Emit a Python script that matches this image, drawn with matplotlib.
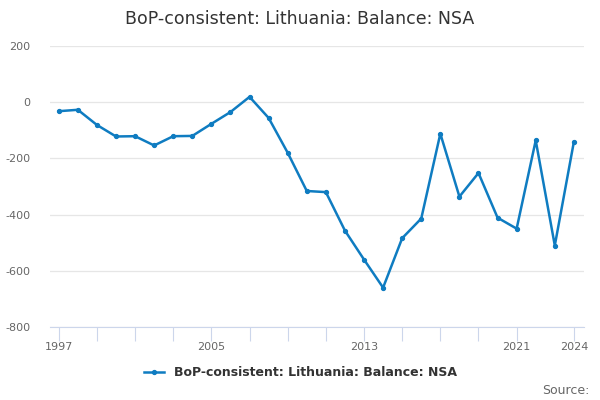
import matplotlib
matplotlib.use("Agg")
import matplotlib.pyplot as plt

# annual values
years = list(range(1997, 2025))
balance = [-32, -27, -81, -122, -121, -154, -121, -120, -77, -35,
           19, -56, -180, -316, -320, -457, -560, -660, -484, -414,
           -112, -336, -252, -411, -450, -136, -510, -141]

title = "BoP-consistent: Lithuania: Balance: NSA"
yticks = [200, 0, -200, -400, -600, -800]
xtick_pos = list(range(1997, 2022, 2)) + [2024]
xtick_labels = ["1997", "2005", "2013", "2021", "2024"]

lineColor = "#0f7cc1"
gridColor = "#e6e6e6"
axisColor = "#ccd6eb"
textColor = "#666666"

fig = plt.figure(figsize=(6, 4), dpi=100)
ax = fig.add_axes([0.083, 0.1825, 0.89, 0.7025])

ax.plot(years, balance, color=lineColor, linewidth=1.8, marker="o",
        markersize=2.8, label=title, zorder=3)

ax.set_ylim(-800, 200)
ax.set_xlim(1996.53, 2024.52)
ax.set_yticks(yticks)
ax.set_yticklabels([str(v) for v in yticks])
ax.grid(axis="y", color=gridColor, linewidth=0.9)
ax.set_axisbelow(True)

ax.set_xticks(xtick_pos)
ax.set_xticklabels([str(y) if str(y) in xtick_labels else "" for y in xtick_pos])

for side in ["left", "right", "top"]:
    ax.spines[side].set_visible(False)
ax.spines["bottom"].set_color(axisColor)
ax.tick_params(axis="y", length=0, labelsize=8, labelcolor=textColor, pad=14)
ax.tick_params(axis="x", length=10, color=axisColor, labelsize=8,
               labelcolor=textColor, pad=1)

fig.suptitle(title, y=0.975, fontsize=12.5, color="#333333")

leg = fig.legend(loc="center", bbox_to_anchor=(0.5, 0.0675), frameon=False,
                 handlelength=1.6, prop={"weight": "bold", "size": 9})
for t in leg.get_texts():
    t.set_color("#333333")

fig.text(0.982, 0.025, "Source:", ha="right", va="center", fontsize=9,
         color=textColor)

fig.savefig("out.png", dpi=100)
